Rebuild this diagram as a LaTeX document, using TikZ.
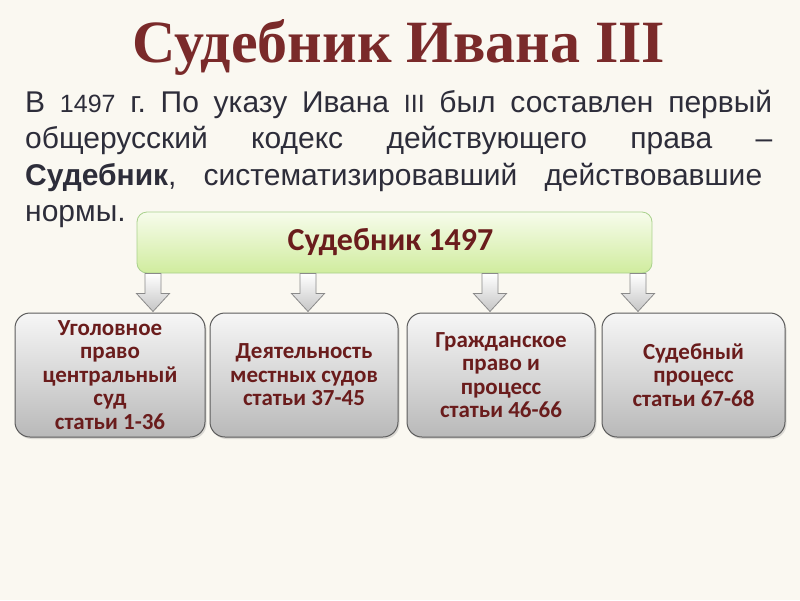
\documentclass[tikz,border=0pt]{standalone}
\usepackage{fontspec}
\setmainfont{Liberation Sans}
\newfontfamily\titlefont{Liberation Serif}
\newfontfamily\boxfont{Carlito}
\usetikzlibrary{calc,shadows}
\definecolor{bg}{HTML}{FAF8F1}
\definecolor{titlered}{HTML}{7A2A2A}
\definecolor{boxred}{HTML}{6A1C1C}
\definecolor{bodytext}{HTML}{2D2D3A}
\definecolor{greentop}{HTML}{F7FCEC}
\definecolor{greenbot}{HTML}{D0EC9E}
\definecolor{greenline}{HTML}{A9D18C}
\definecolor{graytop}{HTML}{F6F6F6}
\definecolor{graybot}{HTML}{B9B9B9}
\definecolor{grayline}{HTML}{5C5C5C}
\definecolor{arrline}{HTML}{8A8A8A}
\frenchspacing
\tikzset{
  titletext/.style={text=titlered, font=\titlefont\bfseries\fontsize{60}{60}\selectfont, inner sep=0pt},
  bodyline/.style={text=bodytext, font=\fontsize{30}{36}\selectfont, inner sep=0pt, anchor=base west},
  mainbox/.style={draw=greenline, line width=0.8pt, rounded corners=10pt, top color=greentop, bottom color=greenbot,
     minimum width=515pt, minimum height=61pt, text=boxred, font=\boxfont\bfseries\fontsize{32}{34}\selectfont},
  subbox/.style={draw=grayline, line width=1pt, rounded corners=15pt, top color=graytop, bottom color=graybot,
     minimum height=124pt, text=boxred, align=center, inner sep=0pt,
     font=\boxfont\bfseries\fontsize{23}{23.5}\selectfont,
     drop shadow={shadow xshift=1.5pt, shadow yshift=-2pt, opacity=0.25}},
  arrowshape/.style={draw=arrline, line width=0.8pt, top color=white, bottom color=gray!45, line join=miter}
}
\newcommand\blockarr[2]{%
  \path[arrowshape] let \p1=(main.south), \p2=(#2.north) in
    (#1-8,\y1) -- (#1+8,\y1) -- (#1+8,\y2+19pt) -- (#1+16.5,\y2+19pt) -- (#1,\y2+1pt)
    -- (#1-16.5,\y2+19pt) -- (#1-8,\y2+19pt) -- cycle;}
\newcommand\smallnum[1]{{\fontsize{25}{36}\selectfont #1}}
\begin{document}
\begin{tikzpicture}[x=1pt,y=-1pt]
\fill[bg] (0,0) rectangle (800,600);
\useasboundingbox (0,0) rectangle (800,600);

\node[titletext, anchor=base] (title) at (399,62) {Судебник Ивана III};

\node[bodyline] (l1) at (25,112) {\makebox[747pt][s]{В \smallnum{1497} г. По указу Ивана \smallnum{III} был составлен первый}};
\node[bodyline] (l2) at (25,148.5) {\makebox[747pt][s]{общерусский кодекс действующего права –}};
\node[bodyline] (l3) at (25,185) {\makebox[737pt][s]{\textbf{Судебник}, систематизировавший действовавшие}};
\node[bodyline] (l4) at (25,221.5) {нормы.};

\node[mainbox] (main) at (394.5,242.5) {\hspace*{-8pt}Судебник 1497};

\node[subbox, minimum width=190pt] (b1) at (110,375) {Уголовное\\право\\центральный\\суд\\статьи 1-36};
\node[subbox, minimum width=188pt] (b2) at (304,375) {Деятельность\\местных судов\\статьи 37-45};
\node[subbox, minimum width=188pt] (b3) at (501,375) {Гражданское\\право и\\процесс\\статьи 46-66};
\node[subbox, minimum width=183pt] (b4) at (693.5,375) {Судебный\\процесс\\статьи 67-68};

\blockarr{153}{b1}
\blockarr{308}{b2}
\blockarr{490}{b3}
\blockarr{638}{b4}
\end{tikzpicture}
\end{document}
